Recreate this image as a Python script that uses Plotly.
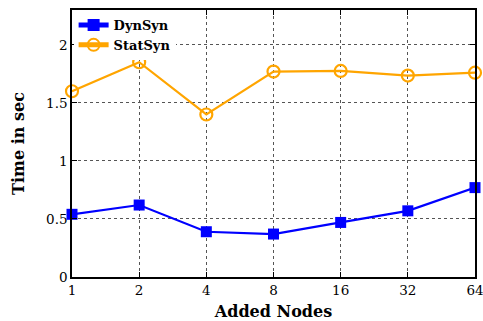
import plotly.graph_objects as go

nodes = ["1", "2", "4", "8", "16", "32", "64"]
dynsyn = [0.54, 0.62, 0.39, 0.37, 0.47, 0.57, 0.77]
statsyn = [1.60, 1.85, 1.40, 1.77, 1.775, 1.735, 1.76]

fig = go.Figure()
fig.add_trace(go.Scatter(
    x=nodes, y=dynsyn, name="DynSyn", mode="lines+markers",
    line=dict(color="#0000FF", width=2.2),
    marker=dict(symbol="square", size=11, color="#0000FF"),
    cliponaxis=False,
))
fig.add_trace(go.Scatter(
    x=nodes, y=statsyn, name="StatSyn", mode="lines+markers",
    line=dict(color="#FFA500", width=2.2),
    marker=dict(symbol="circle-open", size=12, color="#FFA500", line=dict(width=2.2)),
    cliponaxis=False,
))

axis_common = dict(
    showline=True, linecolor="black", linewidth=1.5, mirror="allticks",
    ticks="inside", ticklen=5, tickcolor="black", tickwidth=1,
    showgrid=True, gridcolor="#555555", gridwidth=1, griddash="dot",
    tickfont=dict(family="DejaVu Serif", size=13.5, color="black"),
    zeroline=False, automargin=False,
)

fig.update_layout(
    width=483, height=321,
    margin=dict(l=72, r=8, t=10, b=44),
    paper_bgcolor="white", plot_bgcolor="white",
    xaxis=dict(
        type="category", range=[0, 6],
        title=dict(text="<b>Added Nodes</b>", font=dict(family="DejaVu Serif", size=16, color="black"), standoff=11),
        **axis_common,
    ),
    yaxis=dict(
        range=[0, 2.3], tickvals=[0, 0.5, 1, 1.5, 2], ticktext=["0", "0.5", "1", "1.5", "2"],
        title=dict(text="<b>Time in sec</b>", font=dict(family="DejaVu Serif", size=16, color="black"), standoff=17),
        **axis_common,
    ),
    legend=dict(
        x=0.004, y=1.0, xanchor="left", yanchor="top",
        bgcolor="white", borderwidth=0,
        font=dict(family="DejaVu Serif", size=13, color="black", weight="bold"),
        itemwidth=30, tracegroupgap=0, itemsizing="constant",
    ),
    showlegend=True,
)

fig.write_html("out.html", config={"displayModeBar": False},
               post_script="document.body.style.margin='0';")
